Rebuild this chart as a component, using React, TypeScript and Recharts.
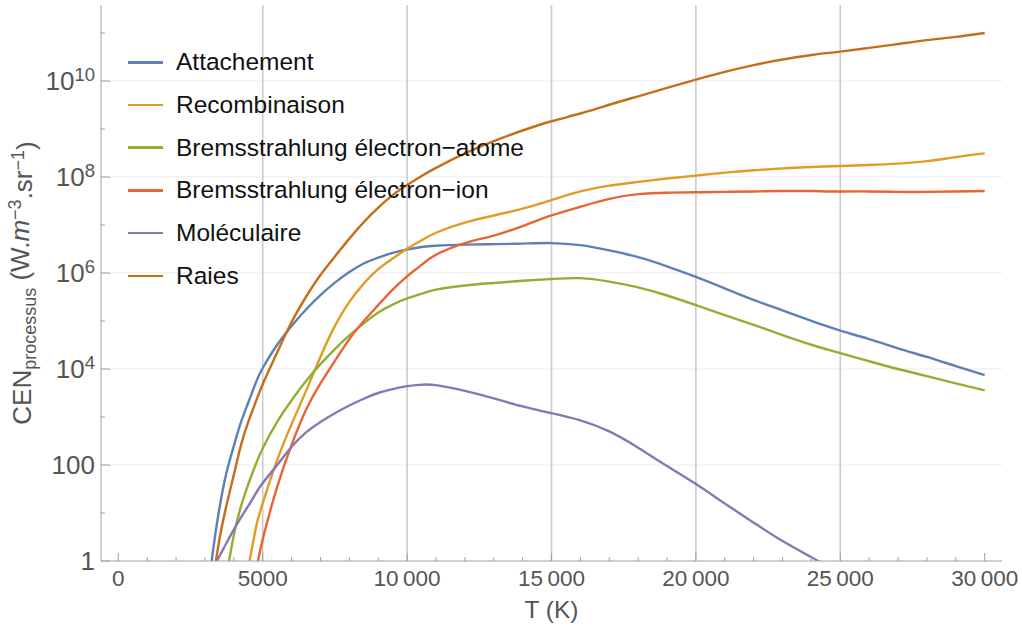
import { Legend, Line, LineChart, ReferenceLine, XAxis, YAxis } from 'recharts';

// Temperature grid (K)
const temperatures = [
  3000, 3250, 3500, 3750, 4000, 4250, 4500, 4750, 5000, 5500, 6000, 6500, 7000, 7500, 8000, 8500,
  9000, 9500, 10000, 10500, 11000, 12000, 13000, 14000, 15000, 16000, 17000, 18000, 19000, 20000,
  21000, 22000, 23000, 24000, 24500, 25000, 26000, 27000, 28000, 29000, 30000,
];

// CEN values per process (W.m^-3.sr^-1)
const attachement = [
  0.05, 1.2, 12.6, 71, 250, 790, 2000, 5000, 1.05e4, 3.2e4, 7.9e4, 1.74e5, 3.47e5, 6.3e5, 1.05e6, 1.58e6,
  2.09e6, 2.63e6, 3.09e6, 3.47e6, 3.7e6, 3.9e6, 4.0e6, 4.1e6, 4.2e6, 3.8e6, 2.95e6, 2.14e6, 1.38e6, 8.3e5,
  4.8e5, 2.75e5, 1.66e5, 1.0e5, 7.9e4, 6.3e4, 4.2e4, 2.7e4, 1.78e4, 1.15e4, 7500,
];
const recombinaison = [
  null, null, null, null, null, null, 0.7, 4.5, 16, 126, 710, 3500, 1.8e4, 7.9e4, 2.5e5, 6.0e5,
  1.2e6, 2.0e6, 3.2e6, 4.8e6, 6.9e6, 1.12e7, 1.58e7, 2.2e7, 3.3e7, 5.0e7, 6.6e7, 7.9e7, 9.3e7, 1.07e8,
  1.23e8, 1.38e8, 1.51e8, 1.62e8, 1.66e8, 1.7e8, 1.78e8, 1.9e8, 2.14e8, 2.6e8, 3.1e8,
];
const bremsAtome = [
  null, null, null, 0.5, 3.5, 14, 40, 100, 224, 794, 2240, 5600, 1.26e4, 2.6e4, 5.0e4, 8.9e4,
  1.5e5, 2.2e5, 2.95e5, 3.7e5, 4.5e5, 5.5e5, 6.2e5, 6.9e5, 7.5e5, 7.8e5, 6.6e5, 5.0e5, 3.4e5, 2.14e5,
  1.32e5, 8.3e4, 5.1e4, 3.2e4, 2.6e4, 2.14e4, 1.45e4, 1.0e4, 7100, 5000, 3600,
];
const bremsIon = [
  null, null, null, null, null, null, null, 0.56, 2.8, 35, 263, 1410, 5000, 1.48e4, 4.2e4, 1.0e5,
  2.14e5, 4.5e5, 8.5e5, 1.48e6, 2.4e6, 4.2e6, 6.0e6, 9.5e6, 1.58e7, 2.4e7, 3.5e7, 4.4e7, 4.7e7, 4.8e7,
  4.9e7, 5.0e7, 5.1e7, 5.1e7, 5.0e7, 5.0e7, 5.0e7, 4.9e7, 4.9e7, 5.0e7, 5.1e7,
];
const moleculaire = [
  null, 0.65, 1.26, 2.4, 4.5, 8.1, 14, 25, 42, 100, 240, 480, 790, 1200, 1740, 2400,
  3160, 3800, 4400, 4700, 4600, 3500, 2450, 1660, 1200, 850, 500, 229, 95, 40,
  15.8, 6.3, 2.6, 1.2, 0.8, null, null, null, null, null, null,
];
const raies = [
  null, 0.3, 2.8, 14.8, 63, 263, 794, 2000, 4800, 2.2e4, 9.5e4, 3.2e5, 9.1e5, 2.2e6, 5.2e6, 1.15e7,
  2.3e7, 4.2e7, 6.8e7, 1.05e8, 1.55e8, 3.1e8, 5.6e8, 9.3e8, 1.45e9, 2.1e9, 3.2e9, 4.8e9, 7.2e9, 1.07e10,
  1.55e10, 2.14e10, 2.8e10, 3.47e10, 3.8e10, 4.1e10, 4.9e10, 5.9e10, 7.1e10, 8.3e10, 1.0e11,
];

const xTicks = Array.from({ length: 31 }, (_, i) => i * 1000);
const xGridLines = [5000, 10000, 15000, 20000, 25000];
const yTicks = [1, 10, 100, 1e3, 1e4, 1e5, 1e6, 1e7, 1e8, 1e9, 1e10, 1e11];
const yGridLines = [100, 1e4, 1e6, 1e8, 1e10];

const series = [
  { key: 'attachement', name: 'Attachement', color: '#5E81B5', values: attachement },
  { key: 'recombinaison', name: 'Recombinaison', color: '#E19C24', values: recombinaison },
  { key: 'bremsAtome', name: 'Bremsstrahlung électron\u2212atome', color: '#8FB032', values: bremsAtome },
  { key: 'bremsIon', name: 'Bremsstrahlung électron\u2212ion', color: '#EB6235', values: bremsIon },
  { key: 'moleculaire', name: 'Moléculaire', color: '#8778B3', values: moleculaire },
  { key: 'raies', name: 'Raies', color: '#C56E1A', values: raies },
];

const data = temperatures.map((t, i) => {
  const row: Record<string, number | null> = { t };
  series.forEach((s) => {
    row[s.key] = s.values[i];
  });
  return row;
});

const FONT = '"Liberation Sans", Arial, sans-serif';
const FRAME = '#a0a0a0';
const TEXT = '#555555';
const X_DOMAIN = [-600, 30600];
const Y_DOMAIN = [1, 3.83e11];

const formatT = (v: number) =>
  v >= 10000 ? String(v).replace(/\B(?=(\d{3})+(?!\d))/g, '\u2009') : String(v);

const BottomTick = ({ x, y, payload }: any) => {
  const major = payload.value % 5000 === 0;
  return (
    <g>
      <line x1={x} x2={x} y1={y} y2={y - (major ? 8 : 4)} stroke={FRAME} />
      {major && (
        <text x={x} y={y + 25} textAnchor="middle" fill={TEXT} fontSize={22.5} fontFamily={FONT}>
          {formatT(payload.value)}
        </text>
      )}
    </g>
  );
};

const TopTick = ({ x, y, payload }: any) => {
  const major = payload.value % 5000 === 0;
  return <line x1={x} x2={x} y1={y} y2={y + (major ? 8 : 4)} stroke={FRAME} />;
};

const LeftTick = ({ x, y, payload }: any) => {
  const exp = Math.round(Math.log10(payload.value));
  const major = exp % 2 === 0;
  return (
    <g>
      <line x1={x} x2={x + (major ? 9 : 4)} y1={y} y2={y} stroke={FRAME} />
      {major && (
        <text x={x - 6} y={y} dy="0.36em" textAnchor="end" fill={TEXT} fontSize={26} fontFamily={FONT}>
          {exp === 0 ? '1' : exp === 2 ? '100' : '10'}
          {exp > 2 && (
            <tspan dy="-0.5em" fontSize={18.5}>
              {exp}
            </tspan>
          )}
        </text>
      )}
    </g>
  );
};

const RightTick = ({ x, y, payload }: any) => {
  const exp = Math.round(Math.log10(payload.value));
  const major = exp % 2 === 0;
  return <line x1={x} x2={x - (major ? 9 : 4)} y1={y} y2={y} stroke={FRAME} />;
};

const YLabel = ({ viewBox }: any) => {
  const cx = viewBox.x + 31;
  const cy = viewBox.y + viewBox.height / 2;
  return (
    <text
      x={cx}
      y={cy}
      transform={`rotate(-90, ${cx}, ${cy})`}
      textAnchor="middle"
      fill={TEXT}
      fontSize={26}
      fontFamily={FONT}
    >
      CEN
      <tspan fontSize={18} dy="0.3em">processus</tspan>
      <tspan dy="-0.3em"> (W.</tspan>
      <tspan fontStyle="italic">m</tspan>
      <tspan fontSize={18} dy="-0.42em">{'\u22123'}</tspan>
      <tspan dy="0.42em">.sr</tspan>
      <tspan fontSize={18} dy="-0.42em">{'\u22121'}</tspan>
      <tspan dy="0.42em">)</tspan>
    </text>
  );
};

const XLabel = ({ viewBox }: any) => (
  <text
    x={viewBox.x + viewBox.width / 2}
    y={viewBox.y + 57}
    textAnchor="middle"
    fill={TEXT}
    fontSize={24.5}
    fontFamily={FONT}
  >
    T (K)
  </text>
);

const renderLegend = () => (
  <div style={{ fontFamily: FONT, fontSize: 24.5, color: '#111' }}>
    {series.map((s) => (
      <div key={s.key} style={{ display: 'flex', alignItems: 'center', height: 42.7 }}>
        <span style={{ display: 'inline-block', width: 35, height: 2.5, background: s.color, marginRight: 13 }} />
        <span style={{ whiteSpace: 'nowrap' }}>{s.name}</span>
      </div>
    ))}
  </div>
);

export default function App() {
  return (
    <div style={{ width: 1022, height: 632, background: '#fff' }}>
      <style>{'body{margin:0}'}</style>
      <LineChart width={1022} height={632} data={data} margin={{ top: 5, right: 20, bottom: 21, left: 0 }}>
        <XAxis
          dataKey="t"
          type="number"
          domain={X_DOMAIN}
          ticks={xTicks}
          interval={0}
          allowDataOverflow
          height={50}
          tickSize={0}
          tickMargin={0}
          tickLine={false}
          axisLine={{ stroke: FRAME }}
          tick={<BottomTick />}
          label={<XLabel />}
        />
        <XAxis
          xAxisId="top"
          orientation="top"
          type="number"
          domain={X_DOMAIN}
          ticks={xTicks}
          interval={0}
          allowDataOverflow
          height={0}
          tickSize={0}
          tickMargin={0}
          tickLine={false}
          axisLine={{ stroke: FRAME }}
          tick={<TopTick />}
        />
        <YAxis
          scale="log"
          type="number"
          domain={Y_DOMAIN}
          ticks={yTicks}
          interval={0}
          allowDataOverflow
          width={101}
          tickSize={0}
          tickMargin={0}
          tickLine={false}
          axisLine={{ stroke: FRAME }}
          tick={<LeftTick />}
          label={<YLabel />}
        />
        <YAxis
          yAxisId="right"
          orientation="right"
          scale="log"
          type="number"
          domain={Y_DOMAIN}
          ticks={yTicks}
          interval={0}
          allowDataOverflow
          width={0}
          tickSize={0}
          tickMargin={0}
          tickLine={false}
          axisLine={{ stroke: FRAME }}
          tick={<RightTick />}
        />
        {yGridLines.map((v) => (
          <ReferenceLine key={`h${v}`} y={v} stroke="#ebebeb" strokeWidth={1} />
        ))}
        {xGridLines.map((v) => (
          <ReferenceLine key={`v${v}`} x={v} stroke="#cbcbcb" strokeWidth={1.6} />
        ))}
        <Legend
          layout="vertical"
          align="center"
          verticalAlign="middle"
          content={renderLegend}
          wrapperStyle={{ left: 128, top: 41, width: 'auto', height: 'auto' }}
        />
        {series.map((s) => (
          <Line
            key={s.key}
            dataKey={s.key}
            name={s.name}
            stroke={s.color}
            strokeWidth={2.4}
            type="natural"
            dot={false}
            activeDot={false}
            connectNulls={false}
            isAnimationActive={false}
          />
        ))}
      </LineChart>
    </div>
  );
}
